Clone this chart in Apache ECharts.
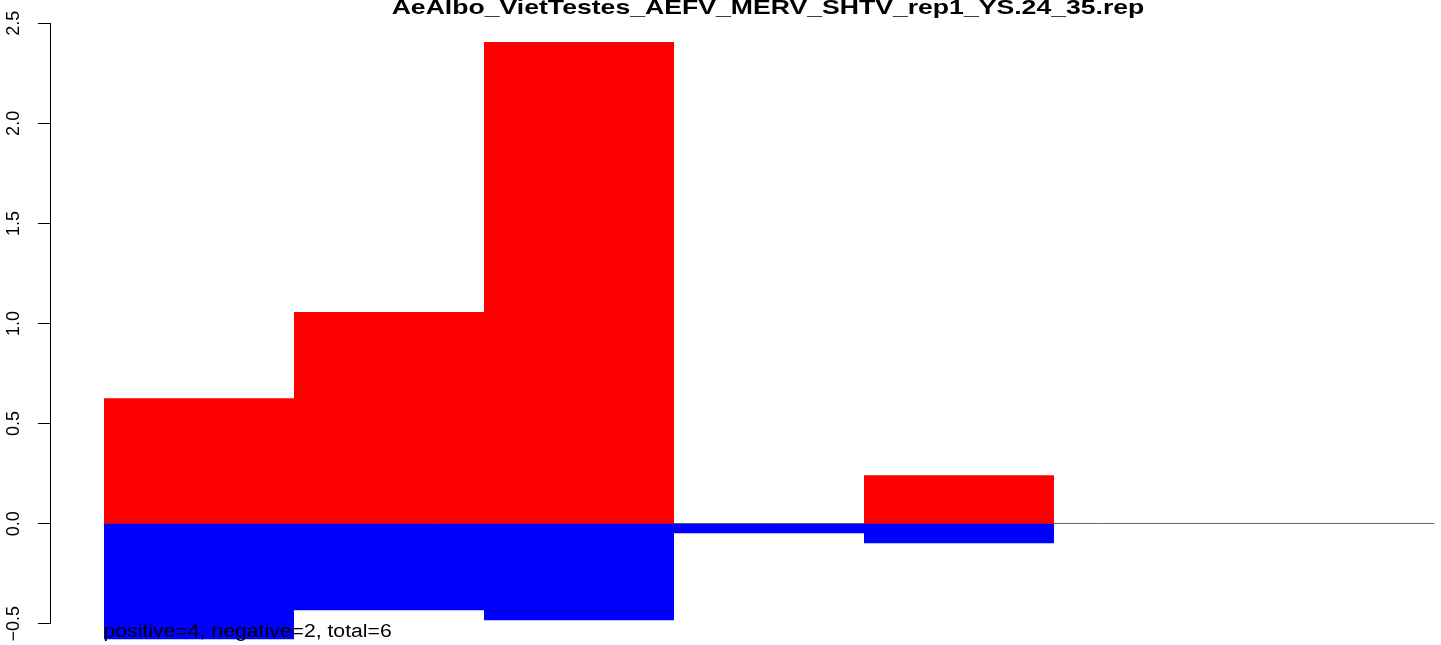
<!DOCTYPE html>
<html>
<head>
<meta charset="utf-8">
<script src="https://cdn.jsdelivr.net/npm/echarts@6/dist/echarts.min.js"></script>
<style>
html,body{margin:0;padding:0;background:#fff;}
#chart{width:1441px;height:645px;}
</style>
</head>
<body>
<div id="chart"></div>
<script>
const titleText = 'AeAlbo_VietTestes_AEFV_MERV_SHTV_rep1_YS.24_35.rep';
const noteText = 'positive=4, negative=2, total=6';
const categories = ['1', '2', '3', '4', '5', '6', '7'];
const positiveValues = [0.626, 1.057, 2.407, 0, 0.242, 0, 0];
const negativeValues = [-0.578, -0.433, -0.483, -0.048, -0.098, 0, 0];
const yTicks = [-0.5, 0.0, 0.5, 1.0, 1.5, 2.0, 2.5];

const chart = echarts.init(document.getElementById('chart'), null, {renderer: 'canvas'});
const FONT = '"Liberation Sans", Arial, Helvetica, sans-serif';

chart.setOption({
  animation: false,
  backgroundColor: '#ffffff',
  grid: {left: 104, right: 7, top: 23.3, bottom: 21.3, containLabel: false},
  xAxis: {
    type: 'category',
    data: categories,
    boundaryGap: true,
    axisLine: {show: true, onZero: true, lineStyle: {color: '#6a6a6a', width: 1}},
    axisTick: {show: false},
    axisLabel: {show: false},
    splitLine: {show: false}
  },
  yAxis: {
    type: 'value',
    min: yTicks[0],
    max: yTicks[yTicks.length - 1],
    interval: 0.5,
    offset: 53.5,
    axisLine: {show: true, lineStyle: {color: '#000', width: 1}},
    axisTick: {show: true, length: 12.5, lineStyle: {color: '#000', width: 1}},
    splitLine: {show: false},
    axisLabel: {
      rotate: 90,
      margin: 27,
      fontSize: 18,
      fontFamily: FONT,
      color: '#000',
      formatter: v => v.toFixed(1).replace('-', '\u2212')
    }
  },
  series: [
    {
      name: 'positive',
      type: 'bar',
      data: positiveValues,
      barWidth: '100%',
      barGap: '-100%',
      barCategoryGap: 0,
      clip: false,
      itemStyle: {color: '#ff0000'},
      z: 3
    },
    {
      name: 'negative',
      type: 'bar',
      data: negativeValues,
      barWidth: '100%',
      barGap: '-100%',
      barCategoryGap: 0,
      clip: false,
      itemStyle: {color: '#0000ff'},
      z: 3
    }
  ],
  graphic: [
    {
      type: 'text',
      x: 768,
      y: 8,
      scaleX: 1.267,
      z: 100,
      style: {
        text: titleText,
        font: 'bold 21px ' + FONT,
        fill: '#000',
        textAlign: 'center',
        textVerticalAlign: 'middle',
        align: 'center',
        verticalAlign: 'middle'
      }
    },
    {
      type: 'text',
      x: 103.5,
      y: 632,
      scaleX: 1.178,
      z: 100,
      style: {
        text: noteText,
        font: '18px ' + FONT,
        fill: '#000',
        textAlign: 'left',
        textVerticalAlign: 'middle',
        align: 'left',
        verticalAlign: 'middle'
      }
    }
  ]
});
</script>
</body>
</html>
